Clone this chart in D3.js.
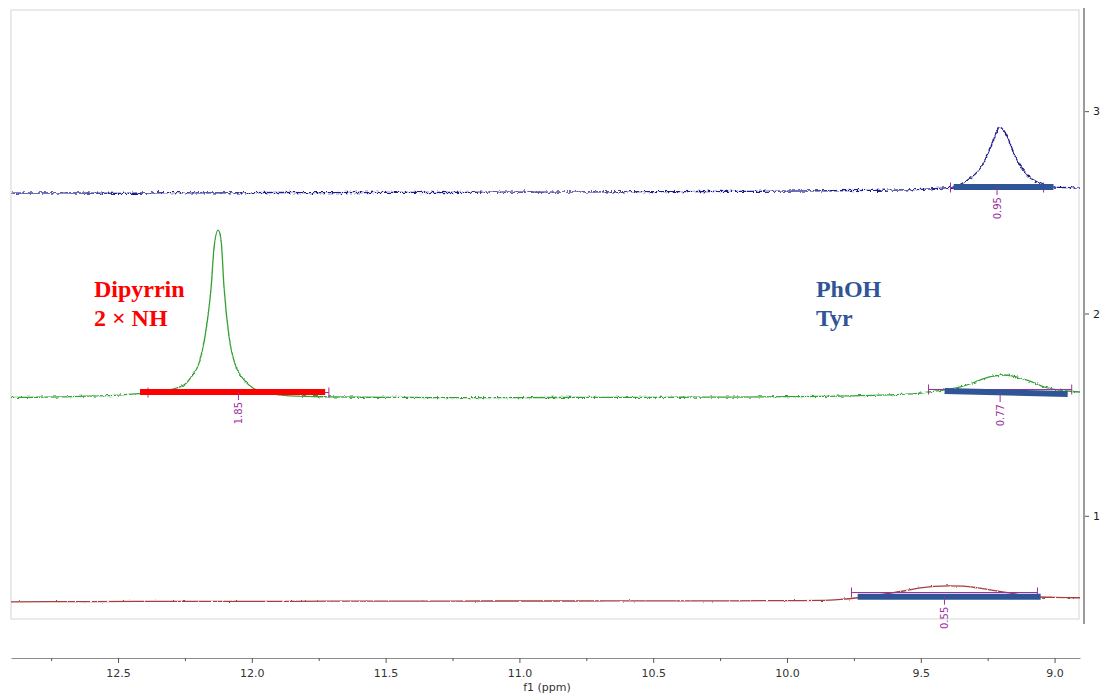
<!DOCTYPE html>
<html><head><meta charset="utf-8">
<script src="https://cdn.jsdelivr.net/npm/d3@7"></script>
<style>body{margin:0;background:#fff}</style>
</head><body>
<svg id="c" width="1104" height="696"></svg>
<script>
// ---------- data ----------
const xTicks = [12.5, 12.0, 11.5, 11.0, 10.5, 10.0, 9.5, 9.0];
const xMinorTicks = [12.75, 12.25, 11.75, 11.25, 10.75, 10.25, 9.75, 9.25];
const yTicks = [1, 2, 3];
const ppmDomain = [12.9, 8.905];
const offsetDomain = [0.49, 3.5];

// top spectrum (navy)
const blueP = [12.90,12.70,12.50,12.30,12.10,11.90,11.70,11.50,11.30,11.10,10.90,10.70,10.50,10.30,10.10,9.90,9.70,9.60,9.50,9.45,9.40,9.377,9.35,9.325,9.30,9.277,9.26,9.239,9.22,9.206,9.19,9.176,9.16,9.146,9.13,9.116,9.10,9.078,9.05,9.026,9.00,8.95,8.905];
const blueV = [2.595,2.596,2.594,2.597,2.596,2.598,2.597,2.599,2.598,2.600,2.600,2.601,2.602,2.603,2.604,2.606,2.608,2.610,2.613,2.617,2.622,2.625,2.640,2.659,2.685,2.719,2.760,2.822,2.885,2.921,2.905,2.872,2.820,2.773,2.735,2.709,2.680,2.659,2.640,2.630,2.625,2.622,2.620];

// middle spectrum (green)
const greenP = [12.90,12.80,12.70,12.60,12.50,12.42,12.35,12.30,12.25,12.227,12.197,12.171,12.152,12.141,12.126,12.115,12.104,12.085,12.059,12.029,11.996,11.95,11.90,11.80,11.70,11.60,11.40,11.20,11.00,10.80,10.60,10.40,10.20,10.00,9.80,9.60,9.50,9.471,9.40,9.351,9.30,9.277,9.24,9.191,9.16,9.127,9.08,9.041,9.00,8.951,8.905];
const greenV = [1.585,1.586,1.588,1.592,1.597,1.604,1.612,1.625,1.650,1.686,1.756,1.919,2.131,2.328,2.412,2.363,2.131,1.884,1.736,1.672,1.632,1.610,1.598,1.590,1.588,1.586,1.585,1.584,1.584,1.585,1.585,1.586,1.587,1.589,1.592,1.599,1.606,1.612,1.625,1.637,1.660,1.672,1.688,1.696,1.692,1.681,1.660,1.637,1.625,1.617,1.612];

// bottom spectrum (red)
const redP = [12.90,12.60,12.30,12.00,11.70,11.40,11.10,10.80,10.50,10.20,10.00,9.874,9.80,9.736,9.67,9.602,9.55,9.501,9.45,9.396,9.34,9.288,9.23,9.176,9.12,9.064,9.00,8.905];
const redV = [0.575,0.576,0.577,0.577,0.578,0.578,0.579,0.579,0.580,0.580,0.581,0.582,0.587,0.595,0.607,0.620,0.632,0.644,0.651,0.654,0.652,0.644,0.632,0.620,0.608,0.600,0.597,0.595];

// highlighted regions (bars)
const barGroup = ["NH", "OH", "OH", "OH"];
const barFrom = [12.418, 9.377, 9.411, 9.736];
const barTo = [11.726, 9.004, 8.951, 9.052];
const barV1 = [1.612, 2.625, 1.617, 0.600];
const barV2 = [1.612, 2.625, 1.602, 0.600];

// integrals
const intFrom = [12.388, 9.389, 9.471, 9.759];
const intTo = [11.712, 9.041, 8.936, 9.064];
const intV = [1.612, 2.625, 1.627, 0.625];
const intLabel = ["1.85", "0.95", "0.77", "0.55"];

// annotation texts
const noteText = [["Dipyrrin", "2 \u00d7 NH"], ["PhOH", "Tyr"]];
const noteGroup = ["NH", "OH"];
const notePpm = [12.59, 9.892];
const noteV = [2.081, 2.081];

// ---------- drawing ----------
const svg = d3.select("#c");
const L = 11, R = 1080, T = 10, B = 619;
const x = d3.scaleLinear().domain(ppmDomain).range([L, R]);
const y = d3.scaleLinear().domain(offsetDomain).range([B, T]);
const groupColor = d3.scaleOrdinal().domain(["NH", "OH"]).range(["#ff0000", "#2f5597"]);
const purple = "#9b30a0";

// noise texture filters (visual style only)
const defs = svg.append("defs");
function noiseFilter(id, scale, seed) {
  const f = defs.append("filter").attr("id", id)
    .attr("filterUnits", "userSpaceOnUse")
    .attr("x", 0).attr("y", 0).attr("width", 1104).attr("height", 696);
  f.append("feTurbulence").attr("type", "fractalNoise")
    .attr("baseFrequency", "0.35 0.35").attr("numOctaves", 2).attr("seed", seed).attr("result", "t");
  f.append("feColorMatrix").attr("in", "t").attr("type", "matrix")
    .attr("values", "1 0 0 0 0  0 0 0 0 0.5  0 0 0 0 0  0 0 0 0 1").attr("result", "m");
  f.append("feDisplacementMap").attr("in", "SourceGraphic").attr("in2", "m")
    .attr("scale", scale).attr("xChannelSelector", "G").attr("yChannelSelector", "R");
}
noiseFilter("nBlue", 5, 3);
noiseFilter("nGreen", 3.5, 7);
noiseFilter("nRed", 2.2, 11);

// frame
svg.append("rect").attr("x", L).attr("y", T).attr("width", 1079 - L).attr("height", B - T)
  .attr("fill", "none").attr("stroke", "#d6d6d6").attr("stroke-width", 1);

// spectra
const line = d3.line().x(d => x(d[0])).y(d => y(d[1])).curve(d3.curveMonotoneX);
const spectra = [
  {p: blueP, v: blueV, c: "#1f1f8c", f: "nBlue"},
  {p: greenP, v: greenV, c: "#35a035", f: "nGreen"},
  {p: redP, v: redV, c: "#a83c3c", f: "nRed"}
];
spectra.forEach(s => {
  const pts = s.p.map((p, i) => [p, s.v[i]]).sort((a, b) => b[0] - a[0]);
  svg.append("path").datum(pts).attr("d", line)
    .attr("fill", "none").attr("stroke", s.c).attr("stroke-width", 1.3)
    .attr("filter", `url(#${s.f})`);
});

// integral lines
const ints = intLabel.map((t, i) => ({a: intFrom[i], b: intTo[i], v: intV[i], t}));
const gi = svg.append("g").attr("stroke", purple).attr("stroke-width", 1).attr("fill", "none");
ints.forEach(d => {
  const yy = Math.round(y(d.v)) + 0.5;
  gi.append("line").attr("x1", x(d.a)).attr("x2", x(d.b)).attr("y1", yy).attr("y2", yy);
  gi.append("line").attr("x1", x(d.a)).attr("x2", x(d.a)).attr("y1", yy - 5).attr("y2", yy + 5);
  gi.append("line").attr("x1", x(d.b)).attr("x2", x(d.b)).attr("y1", yy - 5).attr("y2", yy + 5);
});

// bars
barGroup.forEach((g, i) => {
  svg.append("line")
    .attr("x1", x(barFrom[i])).attr("x2", x(barTo[i]))
    .attr("y1", y(barV1[i])).attr("y2", y(barV2[i]))
    .attr("stroke", groupColor(g)).attr("stroke-width", 6);
});

// integral centre ticks and labels
ints.forEach((d, i) => {
  const cx = x((d.a + d.b) / 2);
  const yb = Math.max(y(barV1[i]), y(barV2[i])) ;
  svg.append("line").attr("x1", cx).attr("x2", cx).attr("y1", yb).attr("y2", yb + 8)
    .attr("stroke", purple).attr("stroke-width", 1);
  svg.append("text").attr("transform", `translate(${cx},${yb + 10}) rotate(-90)`)
    .attr("text-anchor", "end").attr("dy", "0.35em")
    .attr("font-family", "DejaVu Sans").attr("font-size", 10).attr("fill", purple)
    .text(d.t);
});

// annotations
noteText.forEach((lines, i) => {
  const t = svg.append("text").attr("x", x(notePpm[i])).attr("y", y(noteV[i]))
    .attr("font-family", "Liberation Serif").attr("font-weight", "bold")
    .attr("font-size", 24).attr("fill", groupColor(noteGroup[i]));
  lines.forEach((s, j) => t.append("tspan").attr("x", x(notePpm[i])).attr("dy", j ? 29 : 0).text(s));
});

// bottom axis
const axB = svg.append("g").attr("transform", "translate(0,658)")
  .call(d3.axisBottom(x).tickValues(xTicks).tickFormat(d3.format(".1f")).tickSize(5).tickSizeOuter(0).tickPadding(6));
axB.select(".domain").attr("stroke", "#8c8c8c");
axB.selectAll(".tick line").attr("stroke", "#555");
axB.selectAll("text").attr("font-family", "DejaVu Sans").attr("font-size", 11).attr("fill", "#333");
const axBm = svg.append("g").attr("transform", "translate(0,658)")
  .call(d3.axisBottom(x).tickValues(xMinorTicks).tickFormat("").tickSize(3).tickSizeOuter(0));
axBm.select(".domain").remove();
axBm.selectAll(".tick line").attr("stroke", "#555");
svg.append("text").attr("x", 547).attr("y", 691).attr("text-anchor", "middle")
  .attr("font-family", "DejaVu Sans").attr("font-size", 11).attr("fill", "#333").text("f1 (ppm)");

// right axis
const axR = svg.append("g").attr("transform", "translate(1084,0)")
  .call(d3.axisRight(y).tickValues(yTicks).tickFormat(d3.format("d")).tickSize(5).tickSizeOuter(0).tickPadding(4));
axR.select(".domain").remove();
axR.selectAll(".tick line").attr("stroke", "#555");
axR.selectAll("text").attr("font-family", "DejaVu Sans").attr("font-size", 11).attr("fill", "#222");
svg.append("line").attr("x1", 1084).attr("x2", 1084).attr("y1", T - 2).attr("y2", B + 5)
  .attr("stroke", "#9a9a9a").attr("stroke-width", 2);
</script>
</body></html>
